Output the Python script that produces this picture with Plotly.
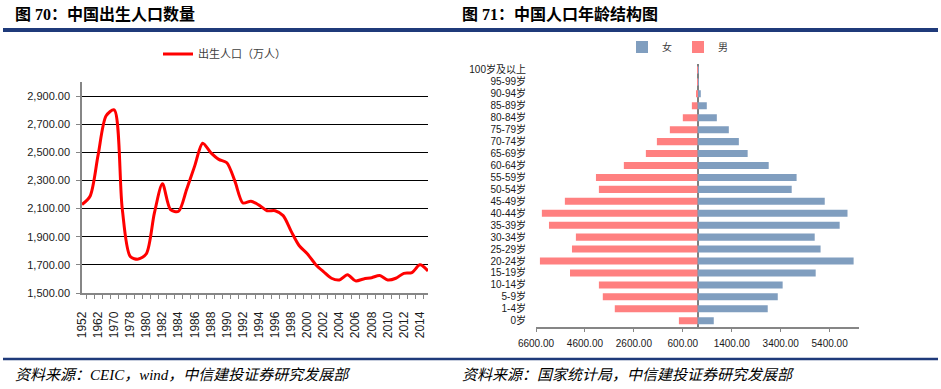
import plotly.graph_objects as go

# ---------------- data: left chart (births, 万人) ----------------
years = ["1952", "1957", "1962", "1965", "1970", "1975", "1978", "1979",
         "1980", "1981", "1982", "1983", "1984", "1985", "1986", "1987",
         "1988", "1989", "1990", "1991", "1992", "1993", "1994", "1995",
         "1996", "1997", "1998", "1999", "2000", "2001", "2002", "2003",
         "2004", "2005", "2006", "2007", "2008", "2009", "2010", "2011",
         "2012", "2013", "2014", "2015"]
births = [2129, 2188, 2480, 2760, 2802, 2100, 1759, 1741,
          1779, 2069, 2276, 2093, 2081, 2236, 2402, 2564,
          2498, 2450, 2426, 2295, 2140, 2152, 2125, 2085,
          2085, 2050, 1938, 1836, 1779, 1705, 1652, 1605,
          1593, 1629, 1586, 1600, 1609, 1624, 1593, 1605,
          1640, 1645, 1700, 1657]
births_ticks = [1500, 1700, 1900, 2100, 2300, 2500, 2700, 2900]

# ---------------- data: right chart (population pyramid, 万人) ----------------
ages = ["0岁", "1-4岁", "5-9岁", "10-14岁", "15-19岁", "20-24岁", "25-29岁",
        "30-34岁", "35-39岁", "40-44岁", "45-49岁", "50-54岁", "55-59岁",
        "60-64岁", "65-69岁", "70-74岁", "75-79岁", "80-84岁", "85-89岁",
        "90-94岁", "95-99岁", "100岁及以上"]
male = [760, 3380, 3870, 4030, 5210, 6440, 5130, 4970, 6070, 6360, 5420,
        4030, 4150, 3010, 2110, 1660, 1130, 600, 230, 60, 20, 5]
female = [665, 2870, 3280, 3480, 4830, 6380, 5030, 4790, 5810, 6130, 5200,
          3850, 4050, 2910, 2050, 1690, 1280, 790, 380, 135, 50, 30]
pyr_ticks = [-6600, -4600, -2600, -600, 1400, 3400, 5400]

W, H = 941, 389
def px(x): return x / W
def py(y): return 1 - y / H

SANS = "Liberation Sans, Arial, Noto Sans CJK SC, sans-serif"
SERIF_CJK = "Liberation Serif, Times New Roman, Noto Sans CJK SC, serif"
AXIS_GRAY = "#868686"
TXT = "#1a1a1a"

fig = go.Figure()

fig.add_trace(go.Scatter(
    x=years, y=births, mode="lines", name="出生人口（万人）",
    line=dict(color="#FF0000", width=3, shape="spline", smoothing=0.8),
    xaxis="x", yaxis="y", legend="legend", showlegend=True))

fig.add_trace(go.Bar(
    y=ages, x=female, orientation="h", name="女",
    marker=dict(color="#809EBF", line=dict(width=0)),
    xaxis="x2", yaxis="y2", legend="legend2", showlegend=True))
fig.add_trace(go.Bar(
    y=ages, x=[-v for v in male], orientation="h", name="男",
    marker=dict(color="#FF8080", line=dict(width=0)),
    xaxis="x2", yaxis="y2", legend="legend2", showlegend=True))

fig.update_layout(
    width=W, height=H, autosize=False, showlegend=True,
    margin=dict(l=0, r=0, t=0, b=0, autoexpand=False),
    paper_bgcolor="white", plot_bgcolor="white",
    barmode="overlay", bargap=0.41,
    font=dict(family=SANS, color=TXT, size=11),
    xaxis=dict(
        domain=[px(82), px(428)], anchor="y", type="category",
        automargin=False,
        categoryorder="array", categoryarray=years,
        tickmode="array", tickvals=years,
        ticktext=[y if i % 2 == 0 else "" for i, y in enumerate(years)],
        tickangle=-90, tickson="boundaries",
        ticks="outside", ticklen=4, tickcolor=AXIS_GRAY, tickwidth=1,
        showline=True, linecolor=AXIS_GRAY, linewidth=1.5,
        showgrid=False, zeroline=False,
        ticklabelstandoff=12,
        tickfont=dict(size=12, color=TXT, family=SANS)),
    yaxis=dict(
        domain=[py(293), py(82)], anchor="x", automargin=False,
        range=[1500, 3000], tickmode="array", tickvals=births_ticks,
        tickformat=",.2f",
        ticks="outside", ticklen=4, tickcolor=AXIS_GRAY,
        showline=True, linecolor=AXIS_GRAY, linewidth=1.5,
        showgrid=True, gridcolor="#000000", gridwidth=1,
        zeroline=False, ticklabelstandoff=4,
        tickfont=dict(size=11, color=TXT, family=SANS)),
    xaxis2=dict(
        domain=[px(536), px(859)], anchor="y2", automargin=False,
        range=[-6600, 6600], tickmode="array", tickvals=pyr_ticks,
        ticktext=["%.2f" % abs(v) for v in pyr_ticks],
        ticks="outside", ticklen=4, tickcolor=AXIS_GRAY,
        showline=True, linecolor=AXIS_GRAY, linewidth=1.5,
        showgrid=False, zeroline=True, zerolinecolor="#7f7f7f",
        zerolinewidth=1.5, ticklabelstandoff=3,
        tickfont=dict(size=10, color=TXT, family=SANS)),
    yaxis2=dict(
        domain=[py(326.7), py(64)], anchor="x2", type="category",
        automargin=False,
        categoryorder="array", categoryarray=ages,
        tickmode="array", tickvals=ages, ticktext=ages,
        showline=False, ticks="", showgrid=False, zeroline=False,
        ticklabelstandoff=9,
        tickfont=dict(size=10, color=TXT, family=SANS)),
    legend=dict(
        x=px(158), y=py(54), xanchor="left", yanchor="middle",
        orientation="h", bgcolor="rgba(0,0,0,0)",
        font=dict(size=11, color="#404040", family=SANS)),
    legend2=dict(
        x=px(622), y=py(47), xanchor="left", yanchor="middle",
        orientation="h", bgcolor="rgba(0,0,0,0)", traceorder="normal",
        entrywidth=11, itemwidth=30,
        font=dict(size=10, color="#404040", family=SANS)),
    shapes=[
        dict(type="line", xref="paper", yref="paper",
             x0=px(3), x1=px(938), y0=py(30), y1=py(30),
             line=dict(color="#1F3A7A", width=4)),
        dict(type="line", xref="paper", yref="paper",
             x0=px(3), x1=px(938), y0=py(359), y1=py(359),
             line=dict(color="#1F3A7A", width=2.5)),
    ],
    annotations=[
        dict(text="<b>图 70：中国出生人口数量</b>", x=px(13), y=py(14),
             xref="paper", yref="paper", xanchor="left", yanchor="middle",
             showarrow=False, font=dict(size=16, color="#000000", family=SERIF_CJK)),
        dict(text="<b>图 71：中国人口年龄结构图</b>", x=px(460), y=py(14),
             xref="paper", yref="paper", xanchor="left", yanchor="middle",
             showarrow=False, font=dict(size=16, color="#000000", family=SERIF_CJK)),
        dict(text="<i>资料来源：CEIC，wind，中信建投证券研究发展部</i>", x=px(13), y=py(375),
             xref="paper", yref="paper", xanchor="left", yanchor="middle",
             showarrow=False, font=dict(size=15, color="#000000", family=SERIF_CJK)),
        dict(text="<i>资料来源：国家统计局，中信建投证券研究发展部</i>", x=px(460), y=py(375),
             xref="paper", yref="paper", xanchor="left", yanchor="middle",
             showarrow=False, font=dict(size=15, color="#000000", family=SERIF_CJK)),
    ],
)

fig.write_html(
    "out.html",
    config={"displayModeBar": False},
    post_script="document.body.style.margin='0';document.body.style.overflow='hidden';")
